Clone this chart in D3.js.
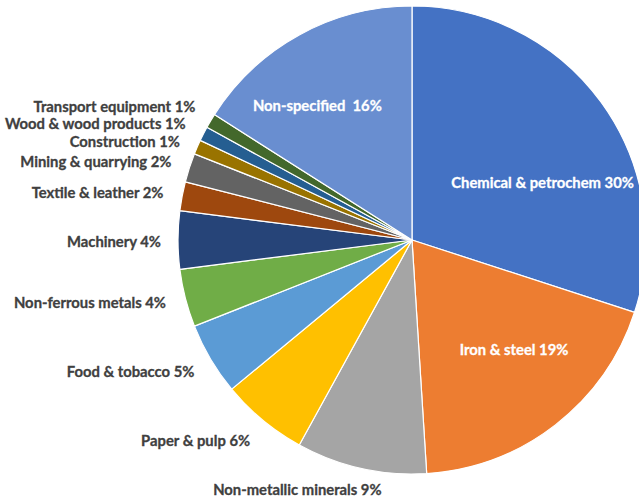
<!DOCTYPE html>
<html>
<head>
<meta charset="utf-8">
<script src="https://cdn.jsdelivr.net/npm/d3@7"></script>
<style>
  html, body { margin: 0; padding: 0; background: #fff; }
  svg { display: block; }
  text { font-family: Lato, "Open Sans", sans-serif; font-weight: 700; white-space: pre; }
</style>
</head>
<body>
<svg id="chart" width="639" height="501"></svg>
<script>
// Industrial energy use by sector, share of total (%)
const sectors = [
  "Chemical & petrochem", "Iron & steel", "Non-metallic minerals", "Paper & pulp",
  "Food & tobacco", "Non-ferrous metals", "Machinery", "Textile & leather",
  "Mining & quarrying", "Construction", "Wood & wood products", "Transport equipment",
  "Non-specified"
];
const shares = [30, 19, 9, 6, 5, 4, 4, 2, 2, 1, 1, 1, 16];
const colors = [
  "#4472C4", "#ED7D31", "#A5A5A5", "#FFC000", "#5B9BD5", "#70AD47", "#264478",
  "#9E480E", "#636363", "#997300", "#255E91", "#43682B", "#698ED0"
];
// slices whose label sits inside the wedge
const insideLabels = ["Chemical & petrochem", "Iron & steel", "Non-specified"];

const rows = sectors.map((s, i) => ({ sector: s, value: shares[i], color: colors[i] }));

const svg = d3.select("#chart");
const cx = 412, cy = 240, radius = 234;
const g = svg.append("g").attr("transform", `translate(${cx},${cy})`);

const pie = d3.pie().sort(null).value(d => d.value);
const arc = d3.arc().innerRadius(0).outerRadius(radius);
const arcs = pie(rows);

g.selectAll("path.slice")
  .data(arcs)
  .join("path")
  .attr("class", "slice")
  .attr("d", arc)
  .attr("fill", d => d.data.color)
  .attr("stroke", "#fff")
  .attr("stroke-width", 1.2)
  .attr("stroke-linejoin", "round");

// label placement: outside labels hang off a ring just beyond the rim,
// inside labels start from a ring at 60% of the radius; a few are nudged
const outerRing = d3.arc().innerRadius(radius + 20).outerRadius(radius + 20);
const innerRing = d3.arc().innerRadius(radius * 0.6).outerRadius(radius * 0.6);
const nudge = {
  "Chemical & petrochem": [17, 25],
  "Iron & steel": [16, -1],
  "Non-specified": [-27, -11],
  "Non-metallic minerals": [25, 2],
  "Paper & pulp": [0, 5],
  "Food & tobacco": [1, 3],
  "Machinery": [3, 2],
  "Transport equipment": [2, -3.5],
  "Wood & wood products": [0, -1],
  "Textile & leather": [1, 0],
  "Mining & quarrying": [1, 0],
  "Construction": [1, 2.5]
};

const pct = d => (d.data.sector === "Non-specified" ? "  " : " ") + d.data.value + "%";

g.selectAll("text.label")
  .data(arcs)
  .join("text")
  .attr("class", "label")
  .each(function (d) {
    const inside = insideLabels.includes(d.data.sector);
    const [x, y] = (inside ? innerRing : outerRing).centroid(d);
    const [dx, dy] = nudge[d.data.sector] || [0, 0];
    const ink = inside ? "#ffffff" : "#404040";
    d3.select(this)
      .attr("x", x + dx)
      .attr("y", y + dy)
      .attr("dy", "0.35em")
      .attr("text-anchor", inside ? "middle" : "end")
      .attr("fill", ink)
      .attr("stroke", ink)
      .attr("stroke-width", 0.3)
      .attr("font-size", 14.8)
      .text(d.data.sector + pct(d));
  });
</script>
</body>
</html>
